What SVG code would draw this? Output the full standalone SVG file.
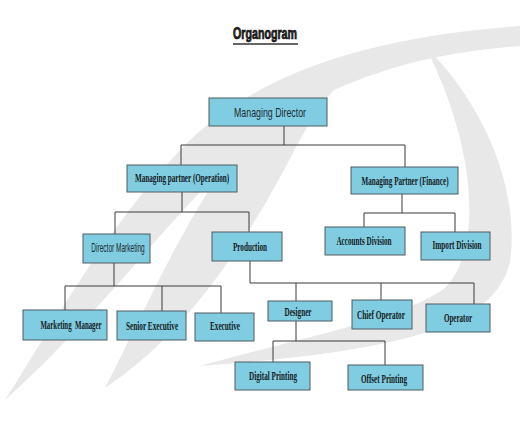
<svg xmlns="http://www.w3.org/2000/svg" width="520" height="434" viewBox="0 0 520 434">
<style>
.box{fill:#80cde1;stroke:#4f5b60;stroke-width:1}
.t{font-family:"Liberation Serif",serif;font-weight:bold;font-size:12px;fill:#151a22;text-anchor:middle}
.s{font-family:"Liberation Sans",sans-serif;font-size:12px;fill:#1d2a33;text-anchor:middle}
.c{fill:none;stroke:#3a3a3a;stroke-width:1}
.wm{fill:#e8e8e8}
</style>
<rect width="520" height="434" fill="#ffffff"/>
<g id="watermark">
<path class="wm" d="M 5,400 C 50,330 110,220 190,140 C 260,75 360,38 520,26 L 520,46 C 400,54 305,92 240,152 C 165,222 95,320 5,400 Z"/>
<path class="wm" d="M 105,388 C 150,300 195,195 255,128 C 295,88 330,68 365,56 C 335,85 312,115 292,155 C 245,245 185,335 105,388 Z"/>
<path class="wm" d="M 425,46 C 485,105 520,190 510,262 C 495,322 420,350 200,366 C 300,338 405,318 445,288 C 482,250 478,150 425,46 Z"/>
</g>
<g id="title">
<text x="265" y="39" font-family="Liberation Sans,sans-serif" font-weight="bold" font-size="16" fill="#2a2a2a" stroke="#000" stroke-width="0.7" text-anchor="middle" textLength="64" lengthAdjust="spacingAndGlyphs">Organogram</text>
<line x1="233" y1="44" x2="298" y2="44" stroke="#333" stroke-width="1.5"/>
</g>
<g id="connectors">
<path class="c" d="M284,126 V145 M181,145 H405 M181,145 V165 M405,145 V167"/>
<path class="c" d="M182,192 V212 M115,212 H249 M115,212 V234 M249,212 V232"/>
<path class="c" d="M402,194 V213 M364,213 H455 M364,213 V227 M455,213 V232"/>
<path class="c" d="M114,263 V286 M65,286 H221 M65,286 V310 M162,286 V311 M221,286 V313"/>
<path class="c" d="M250,261 V283 H474 M296,283 V301 M381,283 V300 M474,283 V304"/>
<path class="c" d="M296,321 V341 M273,341 H385 M273,341 V362 M385,341 V365"/>
</g>
<g id="managing-director"><rect class="box" x="209" y="98" width="118" height="28"/><text class="s" transform="translate(270,117) scale(0.75,1)" font-size="14" textLength="96" lengthAdjust="spacingAndGlyphs">Managing Director</text></g>
<g id="mp-operation"><rect class="box" x="127" y="165" width="110" height="27"/><text class="t" transform="translate(182,182) scale(0.6,1)" textLength="157" lengthAdjust="spacingAndGlyphs">Managing partner (Operation)</text></g>
<g id="mp-finance"><rect class="box" x="351" y="167" width="107" height="27"/><text class="t" transform="translate(405,185) scale(0.6,1)" textLength="145" lengthAdjust="spacingAndGlyphs">Managing Partner (Finance)</text></g>
<g id="director-marketing"><rect class="box" x="83" y="234" width="67" height="29"/><text class="s" transform="translate(118,252) scale(0.65,1)" font-size="11" textLength="82" lengthAdjust="spacingAndGlyphs">Director Marketing</text></g>
<g id="production"><rect class="box" x="212" y="232" width="70" height="29"/><text class="t" transform="translate(250,251) scale(0.6,1)" textLength="57" lengthAdjust="spacingAndGlyphs">Production</text></g>
<g id="accounts-division"><rect class="box" x="325" y="227" width="80" height="28"/><text class="t" transform="translate(364,245) scale(0.6,1)" textLength="92" lengthAdjust="spacingAndGlyphs">Accounts Division</text></g>
<g id="import-division"><rect class="box" x="421" y="232" width="69" height="28"/><text class="t" transform="translate(457,249) scale(0.6,1)" textLength="82" lengthAdjust="spacingAndGlyphs">Import Division</text></g>
<g id="marketing-manager"><rect class="box" x="23" y="310" width="84" height="30"/><text class="t" transform="translate(71,329) scale(0.6,1)" textLength="102" lengthAdjust="spacingAndGlyphs" xml:space="preserve">Marketing  Manager</text></g>
<g id="senior-executive"><rect class="box" x="117" y="311" width="69" height="29"/><text class="t" transform="translate(152,330) scale(0.6,1)" textLength="87" lengthAdjust="spacingAndGlyphs">Senior Executive</text></g>
<g id="executive"><rect class="box" x="195" y="313" width="59" height="28"/><text class="t" transform="translate(225,330) scale(0.6,1)" textLength="50" lengthAdjust="spacingAndGlyphs">Executive</text></g>
<g id="designer"><rect class="box" x="268" y="301" width="64" height="20"/><text class="t" transform="translate(298,316) scale(0.6,1)" font-size="13" textLength="45" lengthAdjust="spacingAndGlyphs">Designer</text></g>
<g id="chief-operator"><rect class="box" x="352" y="300" width="60" height="29"/><text class="t" transform="translate(381,319) scale(0.6,1)" font-weight="normal" textLength="80" lengthAdjust="spacingAndGlyphs">Chief Operator</text></g>
<g id="operator"><rect class="box" x="426" y="304" width="64" height="28"/><text class="t" transform="translate(458,322) scale(0.6,1)" textLength="47" lengthAdjust="spacingAndGlyphs">Operator</text></g>
<g id="digital-printing"><rect class="box" x="235" y="362" width="75" height="28"/><text class="t" transform="translate(273,380) scale(0.6,1)" textLength="80" lengthAdjust="spacingAndGlyphs">Digital Printing</text></g>
<g id="offset-printing"><rect class="box" x="348" y="365" width="75" height="25"/><text class="t" transform="translate(384,383) scale(0.6,1)" textLength="77" lengthAdjust="spacingAndGlyphs">Offset Printing</text></g>
</svg>
